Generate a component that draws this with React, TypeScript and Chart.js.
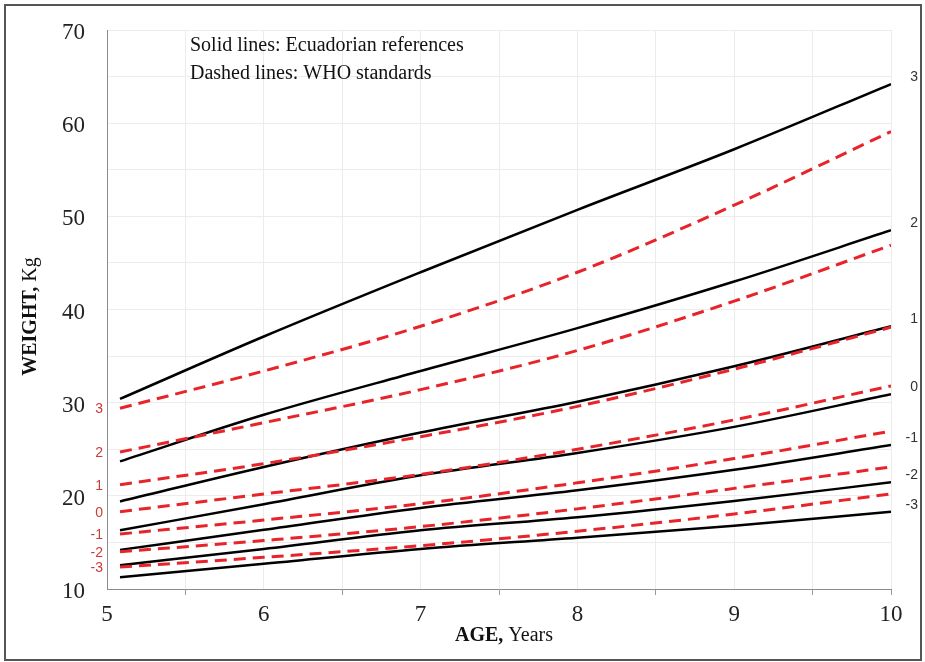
import React, { useEffect, useRef } from "react";
import { Chart, registerables } from "chart.js";

Chart.register(...registerables);

// Age in years (61 months .. 120 months)
const AGES = [5.083, 6, 7, 8, 9, 10];
const SD_LABELS = ["3", "2", "1", "0", "-1", "-2", "-3"];

// Ecuadorian references (solid lines), weight in kg
const ECU_P3 = [30.4, 37.1, 44.0, 50.7, 57.2, 64.2];
const ECU_P2 = [23.7, 28.7, 33.4, 38.0, 43.0, 48.5];
const ECU_P1 = [19.4, 23.1, 26.8, 30.1, 33.9, 38.2];
const ECU_0 = [16.3, 19.1, 22.2, 24.6, 27.4, 30.9];
const ECU_M1 = [14.2, 16.35, 18.7, 20.6, 22.8, 25.45];
const ECU_M2 = [12.55, 14.3, 16.3, 17.7, 19.45, 21.45];
const ECU_M3 = [11.25, 12.7, 14.3, 15.5, 16.8, 18.3];

// WHO standards (dashed lines), weight in kg
const WHO_P3 = [29.4, 33.4, 38.2, 44.0, 51.2, 59.1];
const WHO_P2 = [24.7, 27.85, 31.4, 35.6, 40.9, 46.9];
const WHO_P1 = [21.2, 23.45, 26.35, 29.6, 33.6, 38.1];
const WHO_0 = [18.3, 20.2, 22.3, 25.0, 28.15, 31.8];
const WHO_M1 = [15.9, 17.4, 19.15, 21.4, 24.0, 26.95];
const WHO_M2 = [14.0, 15.2, 16.7, 18.6, 20.8, 23.1];
const WHO_M3 = [12.35, 13.4, 14.65, 16.2, 18.05, 20.2];

const ECU_SERIES = [ECU_P3, ECU_P2, ECU_P1, ECU_0, ECU_M1, ECU_M2, ECU_M3];
const WHO_SERIES = [WHO_P3, WHO_P2, WHO_P1, WHO_0, WHO_M1, WHO_M2, WHO_M3];

const X_TITLE_BOLD = "AGE,";
const X_TITLE_REST = " Years";
const Y_TITLE_BOLD = "WEIGHT,";
const Y_TITLE_REST = " Kg";
const NOTE_LINES = ["Solid lines: Ecuadorian references", "Dashed lines: WHO standards"];

const SERIF = "'Liberation Serif', 'Times New Roman', serif";
const SANS = "'Liberation Sans', 'Noto Sans', sans-serif";
const RED = "#e8242b";
const RED_TEXT = "#cf3a3a";

const toPoints = (vals: number[]) => vals.map((v, i) => ({ x: AGES[i], y: v }));

function drawMixed(ctx: CanvasRenderingContext2D, bold: string, rest: string, cx: number, cy: number, size: number) {
  ctx.font = `bold ${size}px ${SERIF}`;
  const wb = ctx.measureText(bold).width;
  ctx.font = `${size}px ${SERIF}`;
  const wr = ctx.measureText(rest).width;
  const start = cx - (wb + wr) / 2;
  ctx.textAlign = "left";
  ctx.textBaseline = "middle";
  ctx.font = `bold ${size}px ${SERIF}`;
  ctx.fillText(bold, start, cy);
  ctx.font = `${size}px ${SERIF}`;
  ctx.fillText(rest, start + wb, cy);
}

const decorPlugin = {
  id: "decor",
  afterDraw(chart: any) {
    const ctx: CanvasRenderingContext2D = chart.ctx;
    const xs = chart.scales.x;
    const ys = chart.scales.y;
    ctx.save();
    // outer frame
    ctx.strokeStyle = "#555";
    ctx.lineWidth = 2;
    ctx.strokeRect(5, 5, 916, 655);

    // note text
    ctx.fillStyle = "#111";
    ctx.font = `20px ${SERIF}`;
    ctx.textAlign = "left";
    ctx.textBaseline = "middle";
    NOTE_LINES.forEach((t, i) => ctx.fillText(t, 190, 46 + i * 28));

    // axis titles
    ctx.fillStyle = "#111";
    drawMixed(ctx, X_TITLE_BOLD, X_TITLE_REST, (xs.left + xs.right) / 2 + 5, 636, 20);
    ctx.save();
    ctx.translate(31, (ys.top + ys.bottom) / 2 + 7);
    ctx.rotate(-Math.PI / 2);
    drawMixed(ctx, Y_TITLE_BOLD, Y_TITLE_REST, 0, 0, 20);
    ctx.restore();

    // right-hand SD labels (near end of solid lines)
    ctx.font = `14px ${SANS}`;
    ctx.fillStyle = "#333";
    ctx.textAlign = "right";
    ctx.textBaseline = "middle";
    ECU_SERIES.forEach((s, i) => {
      const px = xs.getPixelForValue(AGES[AGES.length - 1]);
      const py = ys.getPixelForValue(s[s.length - 1]);
      ctx.fillText(SD_LABELS[i], px + 27, py - 7);
    });

    // left-hand SD labels (start of dashed lines)
    ctx.fillStyle = RED_TEXT;
    WHO_SERIES.forEach((s, i) => {
      const py = ys.getPixelForValue(s[0]);
      ctx.fillText(SD_LABELS[i], xs.left - 4, py + 1);
    });
    ctx.restore();
  },
};

export default function App() {
  const ref = useRef<HTMLCanvasElement | null>(null);
  useEffect(() => {
    if (!ref.current) return;
    const datasets: any[] = [];
    WHO_SERIES.forEach((s, i) =>
      datasets.push({
        label: "WHO " + SD_LABELS[i],
        data: toPoints(s),
        borderColor: RED,
        borderWidth: 3,
        borderDash: [12, 7],
        pointRadius: 0,
        fill: false,
        cubicInterpolationMode: "monotone",
      })
    );
    ECU_SERIES.forEach((s, i) =>
      datasets.push({
        label: "Ecuador " + SD_LABELS[i],
        data: toPoints(s),
        borderColor: "#000",
        borderWidth: 2.5,
        pointRadius: 0,
        fill: false,
        cubicInterpolationMode: "monotone",
      })
    );
    const chart = new Chart(ref.current, {
      type: "line",
      data: { datasets },
      options: {
        animation: false,
        responsive: false,
        layout: { padding: { left: 0, right: 34, top: 30, bottom: 0 } },
        plugins: { legend: { display: false }, tooltip: { enabled: false } },
        scales: {
          x: {
            type: "linear",
            min: 5,
            max: 10,
            afterFit: (s: any) => {
              s.height = 73;
              s.paddingLeft = 0;
              s.paddingRight = 0;
            },
            ticks: {
              stepSize: 0.5,
              autoSkip: false,
              maxRotation: 0,
              padding: 6,
              color: "#222",
              font: { family: SERIF, size: 23 },
              callback: (v: any) => (Number.isInteger(Number(v)) ? String(v) : ""),
            },
            grid: {
              color: "#ececec",
              drawTicks: true,
              tickLength: 6,
              tickColor: (c: any) => {
                const v = c.tick ? c.tick.value : 0;
                return v % 1 !== 0 || v === 10 ? "#999" : "rgba(0,0,0,0)";
              },
            },
            border: { display: true, color: "#8c8c8c", width: 1 },
          },
          y: {
            type: "linear",
            min: 10,
            max: 70,
            afterFit: (s: any) => {
              s.width = 107;
              s.paddingTop = 0;
              s.paddingBottom = 0;
            },
            ticks: {
              stepSize: 5,
              autoSkip: false,
              padding: 22,
              labelOffset: 3,
              color: "#222",
              font: { family: SERIF, size: 23 },
              callback: (v: any) => (Number(v) % 10 === 0 ? String(v) : ""),
            },
            grid: { color: "#ececec", drawTicks: false },
            border: { display: true, color: "#8c8c8c", width: 1 },
          },
        },
      },
      plugins: [decorPlugin],
    });
    return () => chart.destroy();
  }, []);
  return (
    <div style={{ position: "absolute", left: 0, top: 0, width: 925, height: 662, background: "#fff" }}>
      <canvas ref={ref} width={925} height={662} style={{ display: "block" }} />
    </div>
  );
}
